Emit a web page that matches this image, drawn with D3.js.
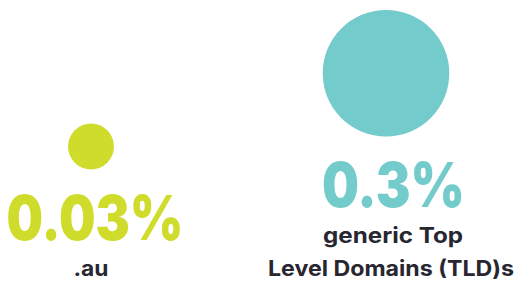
<!DOCTYPE html>
<html>
<head>
<meta charset="utf-8">
<script src="https://cdn.jsdelivr.net/npm/d3@7/dist/d3.min.js"></script>
<style>
  html, body { margin: 0; padding: 0; background: #ffffff; }
  svg { display: block; }
</style>
</head>
<body>
<svg id="chart" width="517" height="282"></svg>
<script>
// ---- data ----
const categories = [".au", "generic Top Level Domains (TLD)s"];
const labelLines = [[".au"], ["generic Top", "Level Domains (TLD)s"]];
const values = [0.03, 0.3];
const valueLabels = ["0.03%", "0.3%"];
const colors = ["#cfdc2b", "#74cbcb"];

// ---- layout / style ----
const svg = d3.select("#chart");

const x = d3.scalePoint().domain(categories).range([91, 386]);
const r = d3.scalePow().exponent(0.44).domain([0, d3.max(values)]).range([0, 63.3]);

const bottomBaseline = 276;
const lineH = 33;
const numGap = 36;     // number baseline -> first label baseline
const circGap = 70.5;  // circle bottom -> number baseline
const fontFam = "Inter, 'DejaVu Sans', sans-serif";
const numWidths = [177, 143];
const numDx = [4, 7.5];
const lineWidths = [[35], [140, 246]];
const lineDx = [[0], [7, 5]];

const cols = svg.selectAll("g.col")
  .data(categories.map((c, i) => ({ c, i, v: values[i], lab: valueLabels[i], lines: labelLines[i], col: colors[i] })))
  .join("g")
  .attr("class", "col");

cols.each(function(d) {
  const g = d3.select(this);
  const cx = x(d.c);
  const firstLabelBase = bottomBaseline - (d.lines.length - 1) * lineH;
  const numBase = firstLabelBase - numGap;
  const circBottom = numBase - circGap;
  const rad = r(d.v);

  g.append("circle")
    .attr("cx", cx)
    .attr("cy", circBottom - rad)
    .attr("r", rad)
    .attr("fill", d.col);

  g.append("text")
    .attr("x", cx + numDx[d.i])
    .attr("y", numBase)
    .attr("text-anchor", "middle")
    .attr("font-family", fontFam)
    .attr("font-weight", 900)
    .attr("font-size", 62)
    .attr("textLength", numWidths[d.i])
    .attr("lengthAdjust", "spacingAndGlyphs")
    .attr("fill", d.col)
    .text(d.lab);

  g.selectAll("text.lbl")
    .data(d.lines)
    .join("text")
    .attr("class", "lbl")
    .attr("x", (t, j) => cx + lineDx[d.i][j])
    .attr("y", (t, j) => firstLabelBase + j * lineH)
    .attr("text-anchor", "middle")
    .attr("font-family", fontFam)
    .attr("font-weight", 700)
    .attr("font-size", 21.5)
    .attr("textLength", (t, j) => lineWidths[d.i][j])
    .attr("lengthAdjust", "spacingAndGlyphs")
    .attr("fill", "#272631")
    .text(t => t);
});
</script>
</body>
</html>
